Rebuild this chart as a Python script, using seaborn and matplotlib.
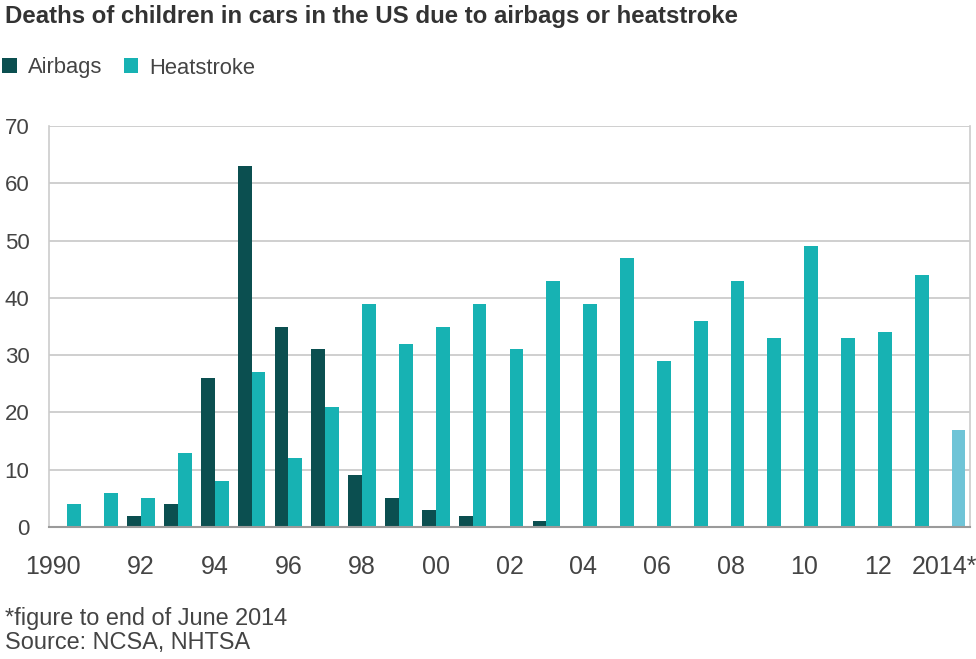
import matplotlib
matplotlib.use("Agg")
import matplotlib.pyplot as plt
import matplotlib.transforms as mtransforms
import seaborn as sns
import pandas as pd
import numpy as np

years = [str(y) for y in range(1990, 2015)]
airbags = [0, 0, 2, 4, 26, 63, 35, 31, 9, 5, 3, 2, 0, 1,
           0, 0, 0, 0, 0, 0, 0, 0, 0, 0, 0]
heatstroke = [4, 6, 5, 13, 8, 27, 12, 21, 39, 32, 35, 39, 31, 43,
              39, 47, 29, 36, 43, 33, 49, 33, 34, 44, 17]
tick_labels = ["1990", "", "92", "", "94", "", "96", "", "98", "", "00", "",
               "02", "", "04", "", "06", "", "08", "", "10", "", "12", "", "2014*"]
series = ["Airbags", "Heatstroke"]

df = pd.DataFrame({
    "year": years * 2,
    "series": [series[0]] * len(years) + [series[1]] * len(years),
    "deaths": airbags + heatstroke,
})

sns.set_theme(style="white")
plt.rcParams["font.family"] = ["Liberation Sans", "DejaVu Sans"]

C_AIR = "#0b4f50"
C_HEAT = "#17b2b3"
C_PART = "#6fc4d7"
TXT = "#444444"

fig = plt.figure(figsize=(9.76, 6.59), dpi=100)
ax = fig.add_axes([49 / 976, 1 - 527 / 659, (970 - 49) / 976, (527 - 126) / 659])

sns.barplot(data=df, x="year", y="deaths", hue="series", order=years,
            hue_order=series, palette=[C_AIR, C_HEAT], width=0.75,
            linewidth=0, saturation=1, ax=ax, errorbar=None)

# last (partial-year) heatstroke bar lighter
heat_container = ax.containers[1]
heat_container.patches[-1].set_facecolor(C_PART)

ax.set_ylim(0, 70)
ax.set_xlim(-0.5, len(years) - 0.5)
ax.set_yticks(range(0, 71, 10))
ax.yaxis.grid(True, color="#cccccc", linewidth=1.3)
ax.set_axisbelow(True)
ax.set_xlabel("")
ax.set_ylabel("")

ax.spines["top"].set_visible(False)
ax.spines["left"].set_color("#cccccc")
ax.spines["right"].set_color("#cccccc")
ax.spines["left"].set_linewidth(1.2)
ax.spines["right"].set_linewidth(1.2)
ax.spines["bottom"].set_color("#9a9a9a")
ax.spines["bottom"].set_linewidth(1.5)

ax.tick_params(axis="y", length=0, pad=14, labelsize=16, labelcolor=TXT)
ax.set_xticks(range(len(years)))
ax.set_xticklabels(tick_labels)
ax.tick_params(axis="x", which="major", length=0, pad=20, labelsize=18, labelcolor=TXT)
ax.set_xticks(np.arange(0.5, len(years) - 1, 1), minor=True)
ax.tick_params(axis="x", which="minor", length=8, width=1, color="#bbbbbb", direction="out")

# nudge end labels as in reference
xl = ax.get_xticklabels()
xl[0].set_transform(xl[0].get_transform() + mtransforms.ScaledTranslation(-14 / 100, 0, fig.dpi_scale_trans))
xl[-1].set_transform(xl[-1].get_transform() + mtransforms.ScaledTranslation(-7 / 100, 0, fig.dpi_scale_trans))

sns.move_legend(ax, loc="center left", bbox_to_anchor=(0.0, 1 - 68 / 659),
                bbox_transform=fig.transFigure, ncol=2, frameon=False, title=None,
                fontsize=15.8, handlelength=0.68, handleheight=0.68, handletextpad=0.5,
                columnspacing=0.96, borderaxespad=0, borderpad=0.1)
for t in ax.get_legend().get_texts():
    t.set_color(TXT)

fig.text(5 / 976, 1 - 16 / 659, "Deaths of children in cars in the US due to airbags or heatstroke",
         fontsize=17.3, fontweight="bold", color="#333333", ha="left", va="center")
fig.text(5 / 976, 1 - 619 / 659, "*figure to end of June 2014", fontsize=16.9,
         color=TXT, ha="left", va="center")
fig.text(5 / 976, 1 - 642 / 659, "Source: NCSA, NHTSA", fontsize=16.9,
         color=TXT, ha="left", va="center")

fig.savefig("out.png", dpi=100, facecolor="white")
